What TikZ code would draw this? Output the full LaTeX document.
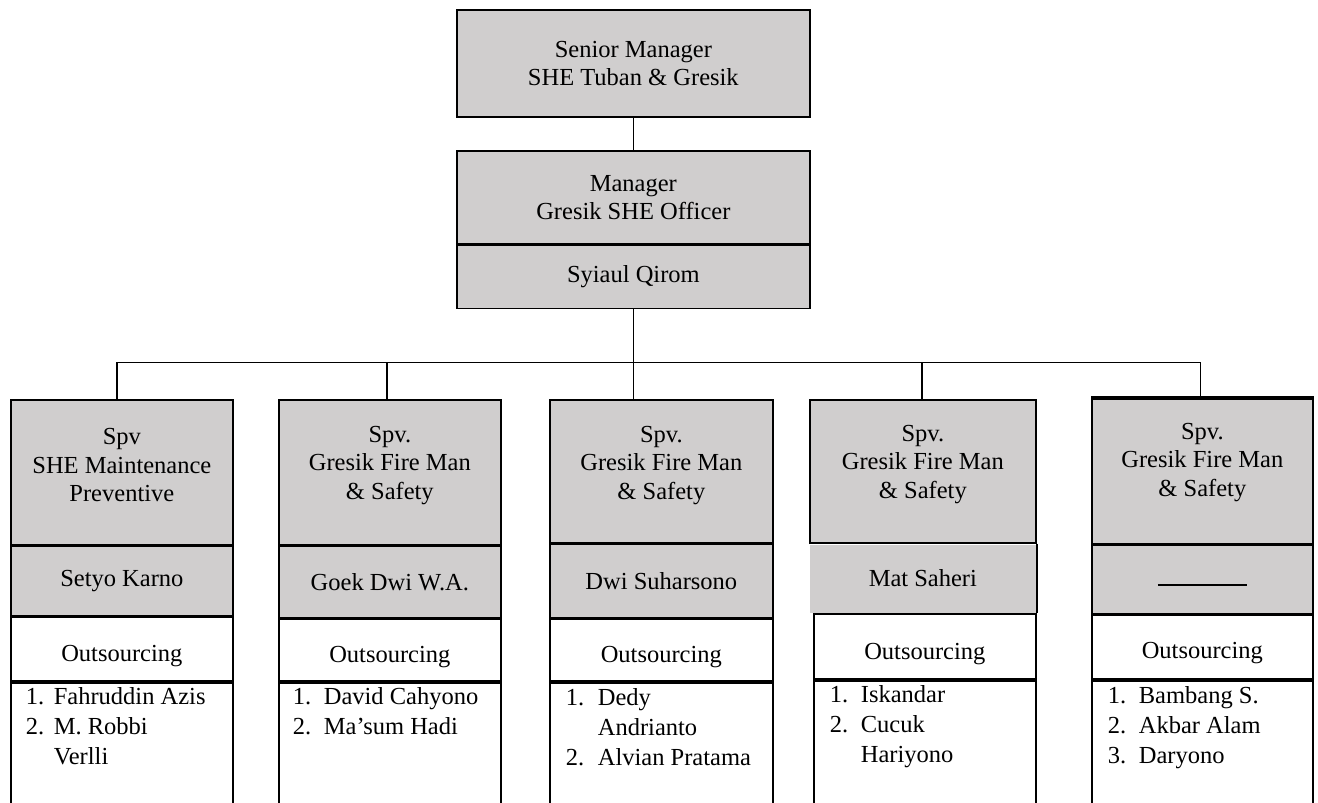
\documentclass[tikz,border=0pt]{standalone}
\usepackage{fontspec}
\setmainfont{Liberation Serif}
\usetikzlibrary{positioning}
\definecolor{cellgray}{RGB}{208,206,206}

\begin{document}
\begin{tikzpicture}[x=1pt,y=-1pt,line width=1.7pt,
  font=\fontsize{24.5}{28.5}\selectfont,
  cell/.style={draw,rectangle,inner sep=0pt,align=center},
  shaded/.style={cell,fill=cellgray},
  spvbox/.style={shaded,minimum height=145,anchor=north west}]
  \tikzstyle{word} = [align=center,inner sep=0pt]
  \tikzstyle{members} = [anchor=north west,inner sep=0pt,font=\fontsize{24.5}{30}\selectfont]
  \useasboundingbox (0,0) rectangle (1318,803);
  \clip (0,0) rectangle (1318,803);
  % managers
  \node (senior) [shaded,minimum width=353,minimum height=107,anchor=north west] at (456,9)
    {Senior Manager\\SHE Tuban \& Gresik};
  \node (manager) [shaded,minimum width=353,minimum height=93,anchor=north west] at (456,150)
    {Manager\\Gresik SHE Officer};
  \node (syiaul) [shaded,minimum width=353,minimum height=63,below=0pt of manager] {Syiaul Qirom};
  % supervisor 1
  \node (spv1) [spvbox,minimum width=222] at (10,399) {};
  \node (spv1text) [word] at ([yshift=7]spv1.center) {Spv\\SHE Maintenance\\Preventive};
  \node (name1) [shaded,minimum width=222,minimum height=69,below=0pt of spv1] {Setyo Karno};
  \node (outs1) [cell,minimum width=222,minimum height=64,below=0pt of name1] {};
  \node (outs1text) [word] at ([yshift=-7]outs1.center) {Outsourcing};
  \node (list1) [cell,minimum width=222,minimum height=160,below=0pt of outs1] {};
  \node (list1text) [members] at ([xshift=15,yshift=-1]list1.north west)
    {\begin{tabular}{@{}p{28pt}@{}l@{}}1. & Fahruddin Azis\\2. & M. Robbi\\ & Verlli\end{tabular}};
  % supervisor 2
  \node (spv2) [spvbox,minimum width=222] at (278,399) {};
  \node (spv2text) [word] at ([yshift=7]spv2.center) {Spv.\\Gresik Fire Man\\\& Safety};
  \node (name2) [shaded,minimum width=222,minimum height=71,below=0pt of spv2] {Goek Dwi W.A.};
  \node (outs2) [cell,minimum width=222,minimum height=62,below=0pt of name2] {};
  \node (outs2text) [word] at ([yshift=-7]outs2.center) {Outsourcing};
  \node (list2) [cell,minimum width=222,minimum height=160,below=0pt of outs2] {};
  \node (list2text) [members] at ([xshift=14,yshift=-1]list2.north west)
    {\begin{tabular}{@{}p{31pt}@{}l@{}}1. & David Cahyono\\2. & Ma’sum Hadi\end{tabular}};
  % supervisor 3
  \node (spv3) [spvbox,minimum width=223,minimum height=143] at (549,399) {};
  \node (spv3text) [word] at ([yshift=6]spv3.center) {Spv.\\Gresik Fire Man\\\& Safety};
  \node (name3) [shaded,minimum width=223,minimum height=73,below=0pt of spv3] {Dwi Suharsono};
  \node (outs3) [cell,minimum width=223,minimum height=62,below=0pt of name3] {};
  \node (outs3text) [word] at ([yshift=-7]outs3.center) {Outsourcing};
  \node (list3) [cell,minimum width=223,minimum height=160,below=0pt of outs3] {};
  \node (list3text) [members] at ([xshift=16,yshift=-2]list3.north west)
    {\begin{tabular}{@{}p{32pt}@{}l@{}}1. & Dedy\\ & Andrianto\\2. & Alvian Pratama\end{tabular}};
  % supervisor 4
  \node (spv4) [spvbox,minimum width=226,minimum height=143] at (809,399) {};
  \node (spv4text) [word] at ([yshift=7]spv4.center) {Spv.\\Gresik Fire Man\\\& Safety};
  \node (name4) [fill=cellgray,inner sep=0pt,minimum width=226,minimum height=68,below=0pt of spv4] {Mat Saheri};
  \draw (name4.north east) -- (name4.south east);
  \node (outs4) [cell,minimum width=222,minimum height=65,below=0pt of name4,xshift=2] {};
  \node (outs4text) [word] at ([yshift=-7]outs4.center) {Outsourcing};
  \node (list4) [cell,minimum width=222,minimum height=160,below=0pt of outs4] {};
  \node (list4text) [members] at ([xshift=16,yshift=-1]list4.north west)
    {\begin{tabular}{@{}p{31pt}@{}l@{}}1. & Iskandar\\2. & Cucuk\\ & Hariyono\end{tabular}};
  % supervisor 5
  \node (spv5) [spvbox,minimum width=221] at (1091,398) {};
  \node (spv5text) [word] at ([yshift=9]spv5.center) {Spv.\\Gresik Fire Man\\\& Safety};
  \node (name5) [shaded,minimum width=221,minimum height=68,below=0pt of spv5]
    {\raisebox{-13pt}{\rule{89pt}{1.8pt}}};
  \node (outs5) [cell,minimum width=221,minimum height=64,below=0pt of name5] {};
  \node (outs5text) [word] at ([yshift=-6]outs5.center) {Outsourcing};
  \node (list5) [cell,minimum width=221,minimum height=160,below=0pt of outs5] {};
  \node (list5text) [members] at ([xshift=16,yshift=-2]list5.north west)
    {\begin{tabular}{@{}p{31pt}@{}l@{}}1. & Bambang S.\\2. & Akbar Alam\\3. & Daryono\end{tabular}};
  \draw [line width=4pt] (spv5.north west) -- (spv5.north east);
  % connectors
  \coordinate (bar) at ([yshift=-53]syiaul.south);
  \coordinate (top1) at ([xshift=-5]spv1.north);
  \coordinate (top2) at ([xshift=-3]spv2.north);
  \coordinate (top4) at ([xshift=-1]spv4.north);
  \coordinate (top5) at ([xshift=-2]spv5.north);
  \draw (senior) -- (manager);
  \draw (syiaul.south) -- (bar);
  \draw (top1 |- bar) -- (top5 |- bar);
  \foreach \i in {1,2,4,5}
    \draw (top\i |- bar) -- (top\i);
  \draw (bar) -- (bar |- spv3.north);
\end{tikzpicture}
\end{document}
